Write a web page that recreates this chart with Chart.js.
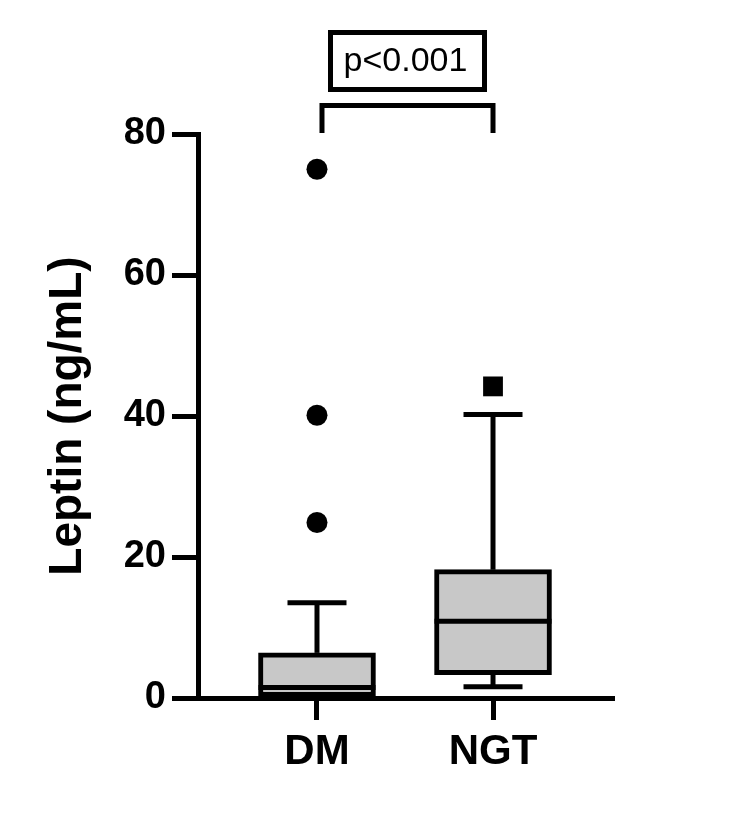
<!DOCTYPE html>
<html><head><meta charset="utf-8">
<script src="https://cdn.jsdelivr.net/npm/chart.js@4"></script>
<style>html,body{margin:0;padding:0;background:#fff}canvas{display:block}</style>
</head><body>
<canvas id="c" width="750" height="815" style="width:750px;height:815px"></canvas>
<script>
// ---- data ----
const categories = ['DM', 'NGT'];
const q1Values = [0.2, 3.3];
const medianValues = [1.5, 10.9];
const q3Values = [6.4, 18.2];
const whiskerLow = [0.1, 1.6];
const whiskerHigh = [13.5, 40.2];
const dmOutliers = [75, 40.1, 24.9];
const ngtOutliers = [44.2];
const yTicks = [0, 20, 40, 60, 80];
const pLabel = 'p<0.001';
const yTitle = 'Leptin (ng/mL)';

// ---- styles ----
const FONT = "'Liberation Sans', Arial, sans-serif";
const LW = 5;
const BOX_W = 117;
const CAP_W = 59;

const boxExtras = {
  id: 'boxExtras',
  beforeDatasetsDraw(chart) {
    const { ctx, scales: { x, y } } = chart;
    ctx.save();
    ctx.strokeStyle = '#000';
    ctx.lineWidth = LW;
    ctx.lineCap = 'butt';
    const seg = (x1, y1, x2, y2) => { ctx.beginPath(); ctx.moveTo(x1, y1); ctx.lineTo(x2, y2); ctx.stroke(); };
    categories.forEach((c, i) => {
      const px = x.getPixelForValue(i);
      const yq3 = y.getPixelForValue(q3Values[i]);
      const yq1 = y.getPixelForValue(q1Values[i]);
      const yHi = y.getPixelForValue(whiskerHigh[i]);
      const yLo = y.getPixelForValue(whiskerLow[i]);
      seg(px, yq3, px, yHi);
      seg(px - CAP_W / 2, yHi, px + CAP_W / 2, yHi);
      seg(px, yq1, px, yLo);
      seg(px - CAP_W / 2, yLo, px + CAP_W / 2, yLo);
    });
    ctx.restore();
  },
  afterDatasetsDraw(chart) {
    const { ctx, scales: { x, y } } = chart;
    ctx.save();
    ctx.strokeStyle = '#000';
    ctx.lineWidth = LW;
    categories.forEach((c, i) => {
      const px = x.getPixelForValue(i);
      const ym = y.getPixelForValue(medianValues[i]);
      ctx.beginPath();
      ctx.moveTo(px - BOX_W / 2, ym);
      ctx.lineTo(px + BOX_W / 2, ym);
      ctx.stroke();
    });
    ctx.restore();
  },
  afterDraw(chart) {
    const { ctx, chartArea, scales: { x } } = chart;
    const top = chartArea.top;
    const xl = x.getPixelForValue(0) + 5;
    const xr = x.getPixelForValue(1);
    const cx = (xl + xr) / 2;
    ctx.save();
    ctx.strokeStyle = '#000';
    ctx.lineWidth = LW;
    ctx.lineJoin = 'miter';
    // bracket
    ctx.beginPath();
    ctx.moveTo(xl, top - 1);
    ctx.lineTo(xl, top - 28.5);
    ctx.lineTo(xr, top - 28.5);
    ctx.lineTo(xr, top - 1);
    ctx.stroke();
    // label box
    ctx.strokeRect(cx - 77, top - 101.5, 154, 57);
    ctx.fillStyle = '#000';
    ctx.font = '34px ' + FONT;
    ctx.textAlign = 'center';
    ctx.textBaseline = 'alphabetic';
    ctx.fillText(pLabel, cx - 2, top - 63.5);
    ctx.restore();
  }
};

new Chart(document.getElementById('c'), {
  type: 'bar',
  data: {
    datasets: [
      {
        type: 'bar',
        data: categories.map((c, i) => ({ x: i, y: [q1Values[i], q3Values[i]] })),
        backgroundColor: '#c8c8c8',
        borderColor: '#000',
        borderWidth: LW,
        borderSkipped: false,
        barThickness: BOX_W
      },
      {
        type: 'scatter',
        data: dmOutliers.map(v => ({ x: 0, y: v })),
        pointStyle: 'circle',
        pointRadius: 10.5,
        backgroundColor: '#000',
        borderWidth: 0
      },
      {
        type: 'scatter',
        data: ngtOutliers.map(v => ({ x: 1, y: v })),
        pointStyle: 'rect',
        pointRadius: 14,
        backgroundColor: '#000',
        borderWidth: 0
      }
    ]
  },
  options: {
    responsive: false,
    animation: false,
    devicePixelRatio: 1,
    layout: { padding: { top: 134, right: 138, left: 0, bottom: 0 } },
    plugins: { legend: { display: false }, tooltip: { enabled: false } },
    scales: {
      x: {
        type: 'linear',
        min: -0.676,
        max: 1.676,
        offset: false,
        grid: { offset: false, drawOnChartArea: false, drawTicks: true, tickLength: 22, lineWidth: LW, tickWidth: LW, color: '#000', tickColor: '#000' },
        border: { display: true, color: '#000', width: LW },
        afterBuildTicks: s => { s.ticks = categories.map((c, i) => ({ value: i })); },
        afterFit: s => { s.height = 117; },
        ticks: {
          callback: v => categories[v] ?? '',
          color: '#000',
          padding: 7,
          maxRotation: 0,
          autoSkip: false,
          font: { family: FONT, size: 42, weight: 'bold' }
        }
      },
      y: {
        min: yTicks[0],
        max: yTicks[yTicks.length - 1],
        afterBuildTicks: s => { s.ticks = yTicks.map(v => ({ value: v })); },
        afterFit: s => { s.width = 198; },
        grid: { drawOnChartArea: false, drawTicks: true, tickLength: 26, lineWidth: LW, tickWidth: LW, color: '#000', tickColor: '#000' },
        border: { display: true, color: '#000', width: LW },
        ticks: {
          color: '#000',
          padding: 6,
          font: { family: FONT, size: 38, weight: 'bold' }
        },
        title: {
          display: true,
          text: yTitle,
          color: '#000',
          padding: { top: 41, bottom: 0 },
          font: { family: FONT, size: 46, weight: 'bold' }
        }
      }
    }
  },
  plugins: [boxExtras]
});
</script>
</body></html>
